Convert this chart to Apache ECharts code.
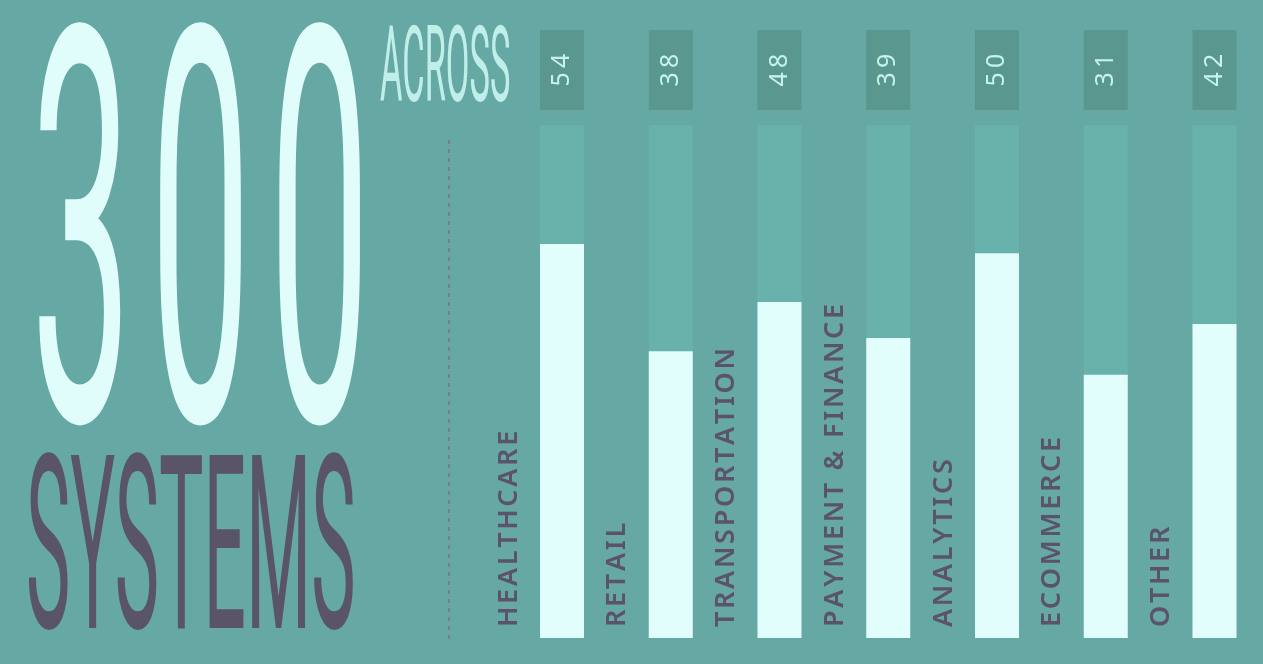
<!DOCTYPE html>
<html>
<head>
<meta charset="utf-8">
<script src="https://cdn.jsdelivr.net/npm/echarts@6/dist/echarts.min.js"></script>
<style>
  html, body { margin: 0; padding: 0; background: #66a8a4; }
  #chart { width: 1263px; height: 664px; }
</style>
</head>
<body>
<div id="chart"></div>
<script>
const categories = ['HEALTHCARE', 'RETAIL', 'TRANSPORTATION', 'PAYMENT & FINANCE', 'ANALYTICS', 'ECOMMERCE', 'OTHER'];
const systemCounts = [54, 38, 48, 39, 50, 31, 42];
// filled part of each column, as % of the column track
const fillLevels = [76.8, 55.9, 65.5, 58.5, 75.0, 51.3, 61.2];
const trackLevels = [100, 100, 100, 100, 100, 100, 100];

const BG = '#66a8a4';
const TRACK = '#69b1ab';
const BOX = '#5a978e';
const FILL = '#e1fdfc';
const LABEL = '#5b5369';

// letter spacing stand-in
const spaced = (s, gap = '\u200A') => s.split('').join(gap);

const chart = echarts.init(document.getElementById('chart'), null, { renderer: 'canvas' });

// first and last column centres sit on the grid edges
const gridLeft = 562;
const gridWidth = 652.5;

const option = {
  backgroundColor: BG,
  animation: false,
  grid: [
    { left: gridLeft, width: gridWidth, top: 125, height: 513 },
    { left: gridLeft, width: gridWidth, top: 30, height: 80 },
  ],
  xAxis: [
    { type: 'category', data: categories, gridIndex: 0, boundaryGap: false, show: false },
    { type: 'category', data: categories, gridIndex: 1, boundaryGap: false, show: false },
  ],
  yAxis: [
    { type: 'value', min: 0, max: 100, gridIndex: 0, show: false, splitLine: { show: false } },
    { type: 'value', min: 0, max: 1, gridIndex: 1, show: false, splitLine: { show: false } },
  ],
  series: [
    {
      name: 'track',
      type: 'bar',
      xAxisIndex: 0,
      yAxisIndex: 0,
      barWidth: 44,
      barGap: '-100%',
      clip: false,
      silent: true,
      itemStyle: { color: TRACK },
      label: {
        show: true,
        position: [-31, 502],
        rotate: 90,
        align: 'left',
        verticalAlign: 'middle',
        color: LABEL,
        fontFamily: 'Noto Sans',
        fontWeight: 600,
        fontSize: 27,
        formatter: p => spaced(p.name),
      },
      data: trackLevels,
    },
    {
      name: 'fill',
      type: 'bar',
      xAxisIndex: 0,
      yAxisIndex: 0,
      barWidth: 44,
      barGap: '-100%',
      clip: false,
      itemStyle: { color: FILL },
      data: fillLevels,
    },
    {
      name: 'count',
      type: 'bar',
      xAxisIndex: 1,
      yAxisIndex: 1,
      barWidth: 44,
      clip: false,
      itemStyle: { color: BOX },
      label: {
        show: true,
        position: 'inside',
        rotate: 90,
        color: '#c6f3ee',
        fontFamily: 'Noto Sans',
        fontSize: 25,
        formatter: p => spaced(String(p.data.count), '\u2009'),
      },
      data: systemCounts.map(c => ({ value: 1, count: c })),
    },
  ],
  graphic: [
    {
      type: 'text',
      x: 31, y: 282,
      scaleX: 1.794, scaleY: 5.52,
      silent: true,
      style: {
        text: spaced('300'),
        font: 'normal 100px Roboto',
        fill: '#e0fdfc',
        align: 'left',
        verticalAlign: 'middle',
      },
    },
    {
      type: 'text',
      x: 380, y: 75,
      scaleX: 0.344, scaleY: 1.055,
      silent: true,
      style: {
        text: 'ACROSS',
        font: 'normal 100px Roboto',
        fill: '#c0efe9',
        align: 'left',
        verticalAlign: 'middle',
      },
    },
    {
      type: 'text',
      x: 26, y: 567,
      scaleX: 0.747, scaleY: 2.433,
      silent: true,
      style: {
        text: 'SYSTEMS',
        font: 'normal 100px Roboto',
        fill: '#5a5468',
        align: 'left',
        verticalAlign: 'middle',
      },
    },
    {
      type: 'line',
      silent: true,
      shape: { x1: 449, y1: 140, x2: 449, y2: 643 },
      style: { stroke: '#7b7d8c', lineWidth: 2, lineDash: [4, 5] },
    },
  ],
};

chart.setOption(option);
window.addEventListener('resize', chart.resize);
</script>
</body>
</html>
